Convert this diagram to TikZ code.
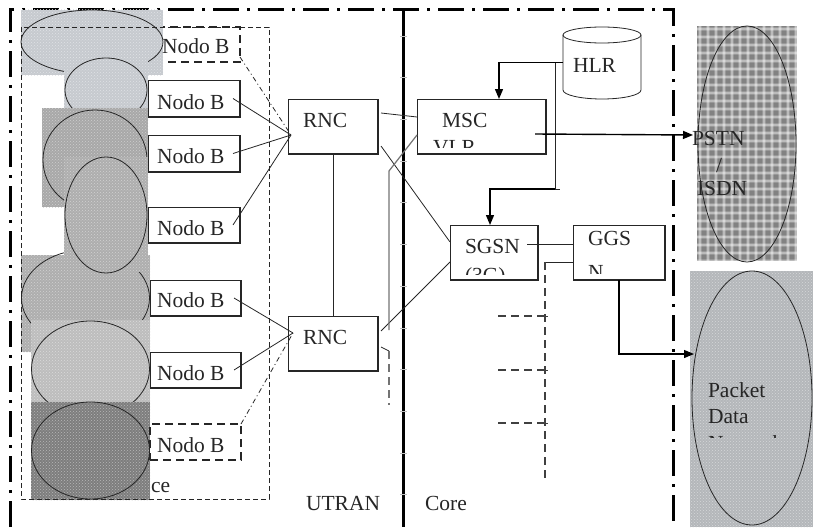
\documentclass[tikz,border=0pt]{standalone}
\usepackage{fontspec}
\setmainfont{Liberation Serif}
\usetikzlibrary{arrows.meta,shapes.geometric,patterns}

\definecolor{texA}{HTML}{C6CACF}
\definecolor{texB}{HTML}{A8A8A8}
\definecolor{texC}{HTML}{AEAEAE}
\definecolor{texD}{HTML}{BDBDBD}
\definecolor{texE}{HTML}{7E7E7E}
\definecolor{texP}{HTML}{828282}
\definecolor{texQ}{HTML}{B4B7BA}

% a cell patch: base colour plus a light woven dot texture
\newcommand{\cellpatch}[3]{%
  \fill[#1] #2 rectangle #3;
  \fill[pattern=crosshatch dots, pattern color=#1!55!white] #2 rectangle #3;
}

\begin{document}
\begin{tikzpicture}[x=1pt,y=-1pt,
  txt/.style={anchor=base west, inner sep=0pt, outer sep=0pt, text=black!85,
              font=\fontsize{21.5}{24}\selectfont},
  box/.style={draw=black!85, line width=0.8pt, rectangle, inner sep=0pt,
              outer sep=0pt, anchor=north west},
  dbox/.style={box, line width=1.3pt, dash pattern=on 8pt off 5pt},
  thin/.style={draw=black!85, line width=0.8pt},
  dashdot/.style={thin, dash pattern=on 5pt off 3pt on 1pt off 3pt},
  dsh/.style={draw=black!75, line width=1.1pt, dash pattern=on 8pt off 5pt},
  arr/.style={draw=black, line width=1.4pt, -{Triangle[length=10pt,width=8pt]}},
  frame/.style={draw=black, line width=3pt, dash pattern=on 26pt off 8pt on 3pt off 8pt},
]
\useasboundingbox (0,0) rectangle (813,527);

% outer dash-dot frame and the UTRAN / Core divider
\draw[frame] (10,527) -- (10,10) -- (673,10) -- (673,527);
\draw[line width=3pt] (403,10) -- (403,527);
\foreach \k in {0,...,11}
  \draw[gray!50, line width=0.7pt] (400,{36+41.7*\k}) -- (407,{36+41.7*\k});

% first Node B (dashed), partly covered by its cell
\node[dbox, minimum width=85pt, minimum height=35pt] (nb1) at (155,27) {};

% radio cells
\cellpatch{texA}{(21,10)}{(163,75)}
\draw[thin] (92,42) ellipse [x radius=71, y radius=32];

\cellpatch{texA}{(64,58)}{(148,108)}
\draw[thin] (106,90) ellipse [x radius=41, y radius=32];

\cellpatch{texB}{(42,108)}{(148,207)}
\draw[thin] (95,160) ellipse [x radius=52, y radius=50];

\cellpatch{texC}{(21,255)}{(150,352)}
\draw[thin] (85.5,298) ellipse [x radius=64, y radius=48];

\cellpatch{texC}{(64,157)}{(148,272)}
\draw[thin] (106,215) ellipse [x radius=41, y radius=58];

\cellpatch{texD}{(31,320)}{(150,402)}
\draw[thin] (90.5,369) ellipse [x radius=59, y radius=48];

\cellpatch{texE}{(31,402)}{(150,500)}
\draw[thin] (90.5,450.5) ellipse [x radius=59, y radius=48.5];

% access network group
\draw[draw=black!85, line width=0.9pt, dash pattern=on 5pt off 3pt] (21,27) rectangle (269,499);
\node[txt] (tce) at (151,492) {ce};

% Node B boxes
\node[box, minimum width=92pt, minimum height=37pt] (nb2) at (148,80) {};
\node[box, minimum width=92pt, minimum height=37pt] (nb3) at (148,135) {};
\node[box, minimum width=92pt, minimum height=36pt] (nb4) at (148,207) {};
\node[box, minimum width=91pt, minimum height=36pt] (nb5) at (150,280) {};
\node[box, minimum width=91pt, minimum height=36pt] (nb6) at (150,352) {};
\node[dbox, minimum width=91pt, minimum height=36pt] (nb7) at (150,424) {};

\node[txt] (tb1) at (162,53) {Nodo B};
\node[txt] (tb2) at (157,109) {Nodo B};
\node[txt] (tb3) at (157,163) {Nodo B};
\node[txt] (tb4) at (157,235) {Nodo B};
\node[txt] (tb5) at (157,307) {Nodo B};
\node[txt] (tb6) at (157,380) {Nodo B};
\node[txt] (tb7) at (157,452) {Nodo B};

% RNCs and core boxes
\node[box, minimum width=90pt, minimum height=55pt] (rnc1) at (288,99) {};
\node[box, minimum width=90pt, minimum height=55pt] (rnc2) at (288,316) {};
\node[box, minimum width=129pt, minimum height=55pt] (msc) at (417,99) {};
\node[box, minimum width=88pt, minimum height=55pt] (sgsn) at (450,225) {};
\node[box, minimum width=92pt, minimum height=55pt] (ggsn) at (573,225) {};

\foreach \n in {nb2,nb3,nb4,nb5,nb6,rnc1,rnc2,msc,sgsn,ggsn}
  \draw[black!85, line width=1.8pt] (\n.south west) -- (\n.south east) -- (\n.north east);

\node[txt] (trnc1) at (303,127) {RNC};
\node[txt] (trnc2) at (303,344) {RNC};
\node[txt] (tmsc) at (442,127) {MSC};
\node[txt] (tsgsn) at (465,253) {SGSN};
\node[txt] (tggsn) at (588,245) {GGS};
\begin{scope}
  \clip (msc.north west) rectangle ([yshift=7pt]msc.south east);
  \node[txt] (tvlr) at (433,154) {VLR};
\end{scope}
\begin{scope}
  \clip (sgsn.north west) rectangle ([yshift=6pt]sgsn.south east);
  \node[txt] (t3g) at (465,282) {(3G)};
\end{scope}
\begin{scope}
  \clip (ggsn.north west) rectangle ([yshift=7pt]ggsn.south east);
  \node[txt] (tn) at (588,279) {N};
\end{scope}

% HLR database
\node[inner sep=0pt, outer sep=0pt, minimum width=78pt, minimum height=55pt,
      anchor=north west] (hlr) at (563,35) {};
\draw[thin, fill=white] (hlr.north west) -- (hlr.south west)
  arc [start angle=180, end angle=0, x radius=39, y radius=9] -- (hlr.north east);
\draw[thin] (hlr.north) ellipse [x radius=39, y radius=8];
\node[txt] (thlr) at (573,72) {HLR};

% external networks: PSTN/ISDN on a plaid patch
\fill[texP] (697,26) rectangle (797,261);
\begin{scope}
  \clip (697,26) rectangle (797,261);
  \foreach \i in {0,...,13} {
    \draw[white, opacity=0.18, line width=4pt] ({700+8*\i},26) -- ({700+8*\i},261);
    \draw[white, opacity=0.35, line width=1.4pt] ({700+8*\i},26) -- ({700+8*\i},261);
  }
  \foreach \i in {0,...,29} {
    \draw[white, opacity=0.18, line width=4pt] (697,{29+8*\i}) -- (797,{29+8*\i});
    \draw[white, opacity=0.35, line width=1.4pt] (697,{29+8*\i}) -- (797,{29+8*\i});
  }
\end{scope}
\node[ellipse, draw=black!85, line width=0.8pt, inner sep=0pt,
      minimum width=98pt, minimum height=236pt] (pstn) at (747,144) {};
\node[txt] (tpstn) at (692,145) {PSTN};
\node[txt] (tslash) at (716,172) {/};
\node[txt] (tisdn) at (697,195) {ISDN};

% packet data network
\cellpatch{texQ}{(690,271)}{(813,527)}
\node[ellipse, draw=black!85, line width=0.8pt, inner sep=0pt,
      minimum width=120pt, minimum height=254pt] (pdn) at (752,398) {};
\node[txt] (tpacket) at (708,397) {Packet};
\node[txt] (tdata) at (708,423) {Data};
\begin{scope}
  \clip (690,430) rectangle (813,437);
  \node[txt] (tnet) at (708,450) {Network};
\end{scope}

% Node B -> RNC links
\coordinate (r1in) at ([shift={(3pt,-8.5pt)}]rnc1.west);
\coordinate (r2in) at ([shift={(5pt,10.5pt)}]rnc2.west);
\draw[dashdot] ([yshift=5pt]nb1.south east) -- (r1in);
\foreach \n in {nb2,nb3,nb4}
  \draw[thin] ([xshift=-7pt]\n.east) -- (r1in);
\foreach \n in {nb5,nb6}
  \draw[thin] ([xshift=-7pt]\n.east) -- (r2in);
\draw[dashdot] (nb7.north east) -- (r2in);

% UTRAN <-> core links
\draw[thin] (rnc1.south) -- (rnc2.north);
\draw[thin] ([shift={(3pt,13.5pt)}]rnc1.east) -- ([yshift=9.5pt]msc.west);
\draw[thin] ([shift={(3pt,-19.5pt)}]rnc1.east) -- ([yshift=10.5pt]sgsn.west);
\draw[thin] ([shift={(3pt,12.5pt)}]rnc2.east) -- ([yshift=-9.5pt]sgsn.west);

\coordinate (g1) at (389,171);
\coordinate (g2) at (389,330);
\coordinate (g3) at (389,351);
\coordinate (g4) at (389,405);
\draw[black!55, line width=1.2pt] ([yshift=-8.5pt]msc.west) -- (g1) -- (g2);
\draw[thin] ([shift={(3pt,-3.5pt)}]rnc2.east) -- (g3);
\draw[draw=black!55, line width=1.2pt, dash pattern=on 8pt off 5pt] (g3) -- (g4);

% HLR signalling
\draw[arr] (hlr.west) -| ([xshift=17.5pt]msc.north);
\coordinate (h1) at (555,62.5);
\coordinate (h2) at (555,189);
\draw[black!85, line width=1pt] (h1) -- (h2) -- ++(5,0);
\draw[arr] (h2) -| ([xshift=-4pt]sgsn.north);

% core to external networks
\coordinate (pst) at (693,135);
\draw[arr] ([shift={(-11pt,-7.5pt)}]msc.east) -- (pst);
\coordinate (pd) at (694,354);
\draw[arr, line width=1.2pt] (ggsn.south) |- (pd);

% SGSN -- GGSN and further Gn links
\draw[thin] ([shift={(-11pt,8.5pt)}]sgsn.east) -- ([yshift=8.5pt]ggsn.west);
\coordinate (d0) at (545,262);
\coordinate (d4) at (545,478);
\draw[thin] ([yshift=-9.5pt]ggsn.west) -- (d0);
\draw[dsh] (d0) -- (d4);
\foreach \yy in {316,370,423} {
  \draw[dsh] (498,\yy) -- (545,\yy);
  \draw[black!75, line width=1pt] (545,\yy) -- (548,\yy);
}

% domain labels
\node[txt] (tutran) at (306,510) {UTRAN};
\node[txt] (tcore) at (425,510) {Core};
\end{tikzpicture}
\end{document}
